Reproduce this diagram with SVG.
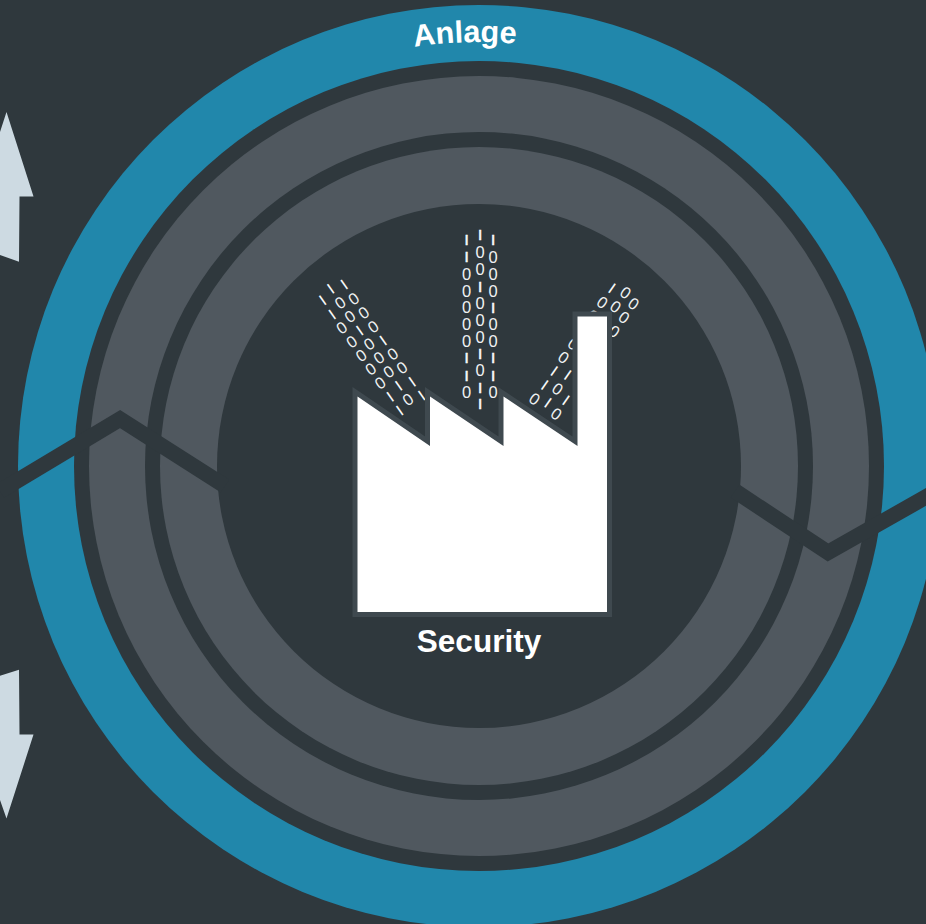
<svg xmlns="http://www.w3.org/2000/svg" width="926" height="924" viewBox="0 0 926 924">
<style>
.d,.b{font-family:"Liberation Sans",Arial,sans-serif;text-anchor:middle;fill:#fff}
.d{font-size:16.5px;fill:#f2f4f5}
.b{font-size:11.5px;font-weight:700;stroke:#fff;stroke-width:.5}
.l .b{stroke-width:.1}
.t{font-family:"Liberation Sans",Arial,sans-serif;font-weight:700;fill:#fff}
.ar{fill:#cddae2}
.s{opacity:.99}
</style>
<defs><path id="arc" d="M55 466A424 424 0 0 1 903 466"/></defs>
<rect width="926" height="924" fill="#2f383d"/>
<g id="rings">
<circle cx="479" cy="466" r="461" fill="#2187ab"/>
<circle cx="479" cy="466" r="405" fill="#2f383d"/>
<circle cx="479" cy="466" r="390" fill="#50585f"/>
<circle cx="479" cy="466" r="334" fill="#2f383d"/>
<circle cx="479" cy="466" r="319" fill="#50585f"/>
<circle cx="479" cy="466" r="262" fill="#2f383d"/>
</g>
<g id="connectors" fill="none" stroke="#2f383d" stroke-width="15.5">
<polyline points="0,491 120,419 225,486"/>
<polyline points="735,491 828,552.5 940,489"/>
</g>
<g id="arrow-up"><polygon class="ar" points="6.5,112 33.5,196.5 19.5,196.5 19,261.7 0,255 0,132"/></g>
<g id="arrow-down"><polygon class="ar" points="19,669.7 19.5,734.5 33.5,734.5 6.5,818.5 0,800 0,675.7"/></g>
<g id="label-anlage"><text class="t" font-size="30.7"><textPath href="#arc" startOffset="652" text-anchor="middle">Anlage</textPath></text></g>
<g id="data-left" class="s l">
<text class="b" dy=".26em" transform="translate(322.7 300) rotate(-35)">|</text>
<text class="b" dy=".26em" transform="translate(332 314.3) rotate(-35)">|</text>
<text class="d" dy=".35em" transform="translate(341.7 327.7) rotate(-35)">0</text>
<text class="d" dy=".35em" transform="translate(351.7 341.7) rotate(-35)">0</text>
<text class="d" dy=".35em" transform="translate(361.3 355.3) rotate(-35)">0</text>
<text class="d" dy=".35em" transform="translate(370.7 369) rotate(-35)">0</text>
<text class="d" dy=".35em" transform="translate(380.3 383) rotate(-35)">0</text>
<text class="b" dy=".26em" transform="translate(390 396.7) rotate(-35)">|</text>
<text class="b" dy=".26em" transform="translate(399.7 410.3) rotate(-35)">|</text>
<text class="b" dy=".26em" transform="translate(330.7 288.7) rotate(-35)">|</text>
<text class="d" dy=".35em" transform="translate(340.3 302.7) rotate(-35)">0</text>
<text class="d" dy=".35em" transform="translate(350 316.3) rotate(-35)">0</text>
<text class="b" dy=".26em" transform="translate(359.7 330.3) rotate(-35)">|</text>
<text class="d" dy=".35em" transform="translate(369.3 344) rotate(-35)">0</text>
<text class="d" dy=".35em" transform="translate(379 357.7) rotate(-35)">0</text>
<text class="d" dy=".35em" transform="translate(388.7 371.7) rotate(-35)">0</text>
<text class="b" dy=".26em" transform="translate(398.7 385.7) rotate(-35)">|</text>
<text class="d" dy=".35em" transform="translate(408 399.3) rotate(-35)">0</text>
<text class="b" dy=".26em" transform="translate(344 284.3) rotate(-35)">|</text>
<text class="d" dy=".35em" transform="translate(353.7 298.7) rotate(-35)">0</text>
<text class="d" dy=".35em" transform="translate(363.7 312.7) rotate(-35)">0</text>
<text class="d" dy=".35em" transform="translate(373.3 326.7) rotate(-35)">0</text>
<text class="b" dy=".26em" transform="translate(383 340.3) rotate(-35)">|</text>
<text class="d" dy=".35em" transform="translate(392.7 354) rotate(-35)">0</text>
<text class="d" dy=".35em" transform="translate(402 367.7) rotate(-35)">0</text>
<text class="b" dy=".26em" transform="translate(412 381.7) rotate(-35)">|</text>
<text class="b" dy=".26em" transform="translate(421.7 395.3) rotate(-35)">|</text>
</g>
<g id="data-middle" class="s">
<text class="b" dy=".26em" x="466.7" y="240">|</text>
<text class="b" dy=".26em" x="466.7" y="257.3">|</text>
<text class="d" dy=".35em" x="466.7" y="274">0</text>
<text class="d" dy=".35em" x="466.7" y="291">0</text>
<text class="d" dy=".35em" x="466.7" y="307.7">0</text>
<text class="d" dy=".35em" x="466.7" y="324.7">0</text>
<text class="d" dy=".35em" x="466.7" y="341.3">0</text>
<text class="b" dy=".26em" x="466.7" y="358.3">|</text>
<text class="b" dy=".26em" x="466.7" y="375.7">|</text>
<text class="d" dy=".35em" x="466.7" y="392.3">0</text>
<text class="b" dy=".26em" x="480" y="235">|</text>
<text class="d" dy=".35em" x="480" y="252.7">0</text>
<text class="d" dy=".35em" x="480" y="269.7">0</text>
<text class="b" dy=".26em" x="480" y="286.7">|</text>
<text class="d" dy=".35em" x="480" y="303.3">0</text>
<text class="d" dy=".35em" x="480" y="320">0</text>
<text class="d" dy=".35em" x="480" y="337">0</text>
<text class="b" dy=".26em" x="480" y="353.7">|</text>
<text class="d" dy=".35em" x="480" y="370.7">0</text>
<text class="b" dy=".26em" x="480" y="387.7">|</text>
<text class="b" dy=".26em" x="480" y="404.3">|</text>
<text class="b" dy=".26em" x="493" y="240">|</text>
<text class="d" dy=".35em" x="493" y="257">0</text>
<text class="d" dy=".35em" x="493" y="274">0</text>
<text class="d" dy=".35em" x="493" y="291">0</text>
<text class="b" dy=".26em" x="493" y="307.7">|</text>
<text class="d" dy=".35em" x="493" y="324.7">0</text>
<text class="d" dy=".35em" x="493" y="341.7">0</text>
<text class="b" dy=".26em" x="493" y="358.3">|</text>
<text class="b" dy=".26em" x="493" y="375.7">|</text>
<text class="d" dy=".35em" x="493" y="392.3">0</text>
</g>
<g id="data-right" class="s l">
<text class="d" dy=".35em" transform="translate(534.7 399) rotate(35)">0</text>
<text class="b" dy=".26em" transform="translate(544.7 385) rotate(35)">|</text>
<text class="b" dy=".26em" transform="translate(554.3 371) rotate(35)">|</text>
<text class="d" dy=".35em" transform="translate(563.7 357.3) rotate(35)">0</text>
<text class="d" dy=".35em" transform="translate(573.3 344) rotate(35)">0</text>
<text class="d" dy=".35em" transform="translate(592.7 316) rotate(35)">0</text>
<text class="d" dy=".35em" transform="translate(602.3 302.3) rotate(35)">0</text>
<text class="b" dy=".26em" transform="translate(612 288.3) rotate(35)">|</text>
<text class="b" dy=".26em" transform="translate(548 402.7) rotate(35)">|</text>
<text class="d" dy=".35em" transform="translate(557.7 389) rotate(35)">0</text>
<text class="b" dy=".26em" transform="translate(567.7 375) rotate(35)">|</text>
<text class="d" dy=".35em" transform="translate(615.7 306.7) rotate(35)">0</text>
<text class="d" dy=".35em" transform="translate(625.7 292.7) rotate(35)">0</text>
<text class="d" dy=".35em" transform="translate(556.3 414) rotate(35)">0</text>
<text class="b" dy=".26em" transform="translate(566 400.3) rotate(35)">|</text>
<text class="d" dy=".35em" transform="translate(614.3 331.3) rotate(35)">0</text>
<text class="d" dy=".35em" transform="translate(624 317.3) rotate(35)">0</text>
<text class="d" dy=".35em" transform="translate(633.7 303.7) rotate(35)">0</text>
</g>
<g id="factory"><polygon points="357.5,396.5 430,446 430,396.5 503.5,446 503.5,396.5 577.5,446 577.5,316.5 607,316.5 607,612 357.5,612" fill="#fff" stroke="#3f494f" stroke-width="10" paint-order="stroke"/></g>
<g id="label-security"><text class="t" x="479" y="652" font-size="31.5" text-anchor="middle">Security</text></g>
</svg>
